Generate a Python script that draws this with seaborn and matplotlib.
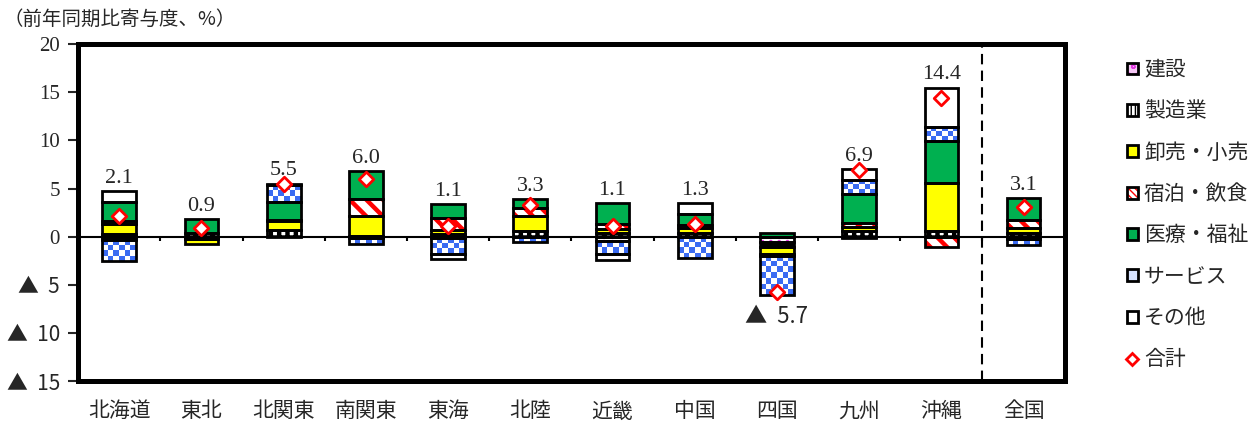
import numpy as np
import matplotlib
matplotlib.use("Agg")
import matplotlib.pyplot as plt
from matplotlib.patches import Patch
from matplotlib.lines import Line2D
from matplotlib.colors import ListedColormap
import seaborn as sns

# -----------------------------
# Data (前年同期比寄与度, %)
# -----------------------------
regions = ["北海道", "東北", "北関東", "南関東", "東海", "北陸",
           "近畿", "中国", "四国", "九州", "沖縄", "全国"]

construction = [-0.3, -0.2, 0.0, -0.1, -0.1, 0.0, -0.4, 0.0, -0.6, -0.1, 0.0, -0.2]
manufacturing = [0.3, 0.35, 0.7, 0.1, 0.3, 0.6, 0.4, 0.4, -0.5, 0.6, 0.6, 0.4]
wholesale = [1.0, -0.6, 0.9, 2.0, 0.4, 1.5, 0.4, 0.5, -0.7, 0.4, 5.0, 0.5]
lodging = [0.3, 0.0, 0.1, 1.8, 1.2, 0.9, 0.5, 0.3, -0.2, 0.4, -1.1, 0.8]
medical = [2.0, 1.45, 1.9, 2.9, 1.5, 0.9, 2.2, 1.2, 0.4, 3.0, 4.3, 2.3]
services = [-2.2, 0.0, 1.8, -0.7, -1.7, -0.6, -1.4, -2.2, -4.1, 1.5, 1.5, -0.7]
other = [1.1, 0.0, 0.1, 0.0, -0.5, 0.0, -0.6, 1.1, 0.0, 1.1, 4.1, 0.0]
total = [2.1, 0.9, 5.5, 6.0, 1.1, 3.3, 1.1, 1.3, -5.7, 6.9, 14.4, 3.1]

series_names = ["建設", "製造業", "卸売・小売", "宿泊・飲食", "医療・福祉", "サービス", "その他"]
series_values = [construction, manufacturing, wholesale, lodging, medical, services, other]
yticks = [20, 15, 10, 5, 0, -5, -10, -15]

# face colour, hatch, hatch colour, hatch width ("checker" = blue/white checkerboard)
BLUE = "#3A6BF2"
styles = {
    "建設": ("white", "..", "#E03CE0", 1.5),
    "製造業": ("white", "++", "black", 3.2),
    "卸売・小売": ("#FFFF00", None, "#FFFF00", 1.0),
    "宿泊・飲食": ("white", "\\\\", "#FF0000", 3.2),
    "医療・福祉": ("#00B050", None, "#00B050", 1.0),
    "サービス": ("checker", None, BLUE, 1.0),
    "その他": ("white", None, "white", 1.0),
}
# small legend swatches: face, hatch, hatch colour
legend_swatch = {
    "建設": ("#F6C8F6", "oo", "#E03CE0"),
    "製造業": ("white", "||||", "black"),
    "卸売・小売": ("#FFFF00", None, "#FFFF00"),
    "宿泊・飲食": ("white", "\\\\\\\\\\", "#FF0000"),
    "医療・福祉": ("#00B050", None, "#00B050"),
    "サービス": ("#D6E2FF", None, "#D6E2FF"),
    "その他": ("white", None, "white"),
}

# -----------------------------
# Style
# -----------------------------
sns.set_style("white")
plt.rcParams["font.family"] = ["Liberation Serif", "Noto Sans CJK JP", "DejaVu Sans"]
plt.rcParams["font.size"] = 14
CJK = ["Noto Sans CJK JP", "DejaVu Sans"]

fig = plt.figure(figsize=(12.6, 4.21), dpi=100)
ax = fig.add_axes([0.062, 0.095, 0.783, 0.8])

x = np.arange(len(regions))
width = 0.41
cell_y = 0.59  # checker cell height in data units (about the cell width on screen)
checker_cmap = ListedColormap(["white", BLUE])

pos_base = np.zeros(len(regions))
neg_base = np.zeros(len(regions))

for name, vals in zip(series_names, series_values):
    vals = np.asarray(vals, dtype=float)
    keep = vals != 0
    bottoms = np.where(vals >= 0, pos_base, neg_base)
    face, hatch, hcol, hlw = styles[name]
    if face == "checker":
        for xi, h, b in zip(x[keep], vals[keep], bottoms[keep]):
            nrow = max(1, int(round(abs(h) / cell_y)))
            grid = (np.add.outer(np.arange(nrow), np.arange(6)) % 2)
            y0, y1 = sorted([b, b + h])
            ax.imshow(grid, cmap=checker_cmap, extent=(xi - width / 2, xi + width / 2, y0, y1),
                      origin="lower", aspect="auto", interpolation="nearest", zorder=2)
    else:
        with plt.rc_context({"hatch.linewidth": hlw}):
            bars = ax.bar(x[keep], vals[keep], width, bottom=bottoms[keep], color=face,
                          hatch=hatch, edgecolor=hcol, linewidth=0, zorder=2)
        for bar in bars:
            if hasattr(bar, "set_hatch_linewidth"):
                bar.set_hatch_linewidth(hlw)
    ax.bar(x[keep], vals[keep], width, bottom=bottoms[keep], fill=False,
           edgecolor="black", linewidth=2.0, zorder=3)
    pos_base += np.clip(vals, 0, None)
    neg_base += np.clip(vals, None, 0)

# total markers
sns.scatterplot(x=x, y=total, marker="D", s=55, color="white", edgecolor="red",
                linewidth=2, zorder=5, ax=ax, legend=False)

# value labels
for xi, tot, top, bot in zip(x, total, pos_base, neg_base):
    if tot >= 0:
        ax.text(xi, top + 0.35, f"{tot:.1f}", ha="center", va="bottom", fontsize=16)
    else:
        ax.text(xi, bot - 1.0, f"▲  {-tot:.1f}", ha="center", va="top", fontsize=16,
                fontfamily=CJK)

# zero line and boundary ticks
ax.axhline(0, color="black", lw=1.5, zorder=4)
ax.vlines(x[:-1] + 0.5, -0.5, 0, color="black", lw=1.5, zorder=4)
ax.axvline(10.5, color="black", lw=1.5, ls=(0, (5, 3)), zorder=1)

ax.set_xlim(-0.5, 11.5)
ax.set_ylim(-15, 20)
ax.set_xticks(x, regions, fontfamily=CJK)
ax.set_yticks(yticks, [str(v) if v >= 0 else f"▲  {-v}" for v in yticks])
for lab in ax.get_yticklabels():
    if "▲" in lab.get_text():
        lab.set_fontfamily(CJK)
ax.tick_params(axis="x", length=0, pad=14, labelsize=15)
ax.tick_params(axis="y", length=7, width=1.5, direction="out", left=True, labelsize=15, pad=6)
for sp in ax.spines.values():
    sp.set_visible(True)
    sp.set_color("black")
    sp.set_linewidth(3.6)

fig.text(0.003, 0.955, "（前年同期比寄与度、%）", fontsize=14, va="center", ha="left",
         fontfamily=CJK)

# legend
handles = []
for name in series_names:
    face, hatch, hcol = legend_swatch[name]
    with plt.rc_context({"hatch.linewidth": 1.5}):
        p1 = Patch(facecolor=face, hatch=hatch, edgecolor=hcol, linewidth=0)
    p2 = Patch(fill=False, edgecolor="black", linewidth=2.0)
    handles.append((p1, p2))
handles.append(Line2D([], [], ls="none", marker="D", markersize=6, markerfacecolor="white",
                      markeredgecolor="red", markeredgewidth=2))
labels = series_names + ["合計"]
fig.legend(handles, labels, loc="upper left", bbox_to_anchor=(0.888, 0.88), frameon=False,
           prop={"family": CJK, "size": 15}, handlelength=0.5, handleheight=0.5,
           handletextpad=0.3, labelspacing=0.93, borderaxespad=0)

fig.savefig("out.png", dpi=100)
